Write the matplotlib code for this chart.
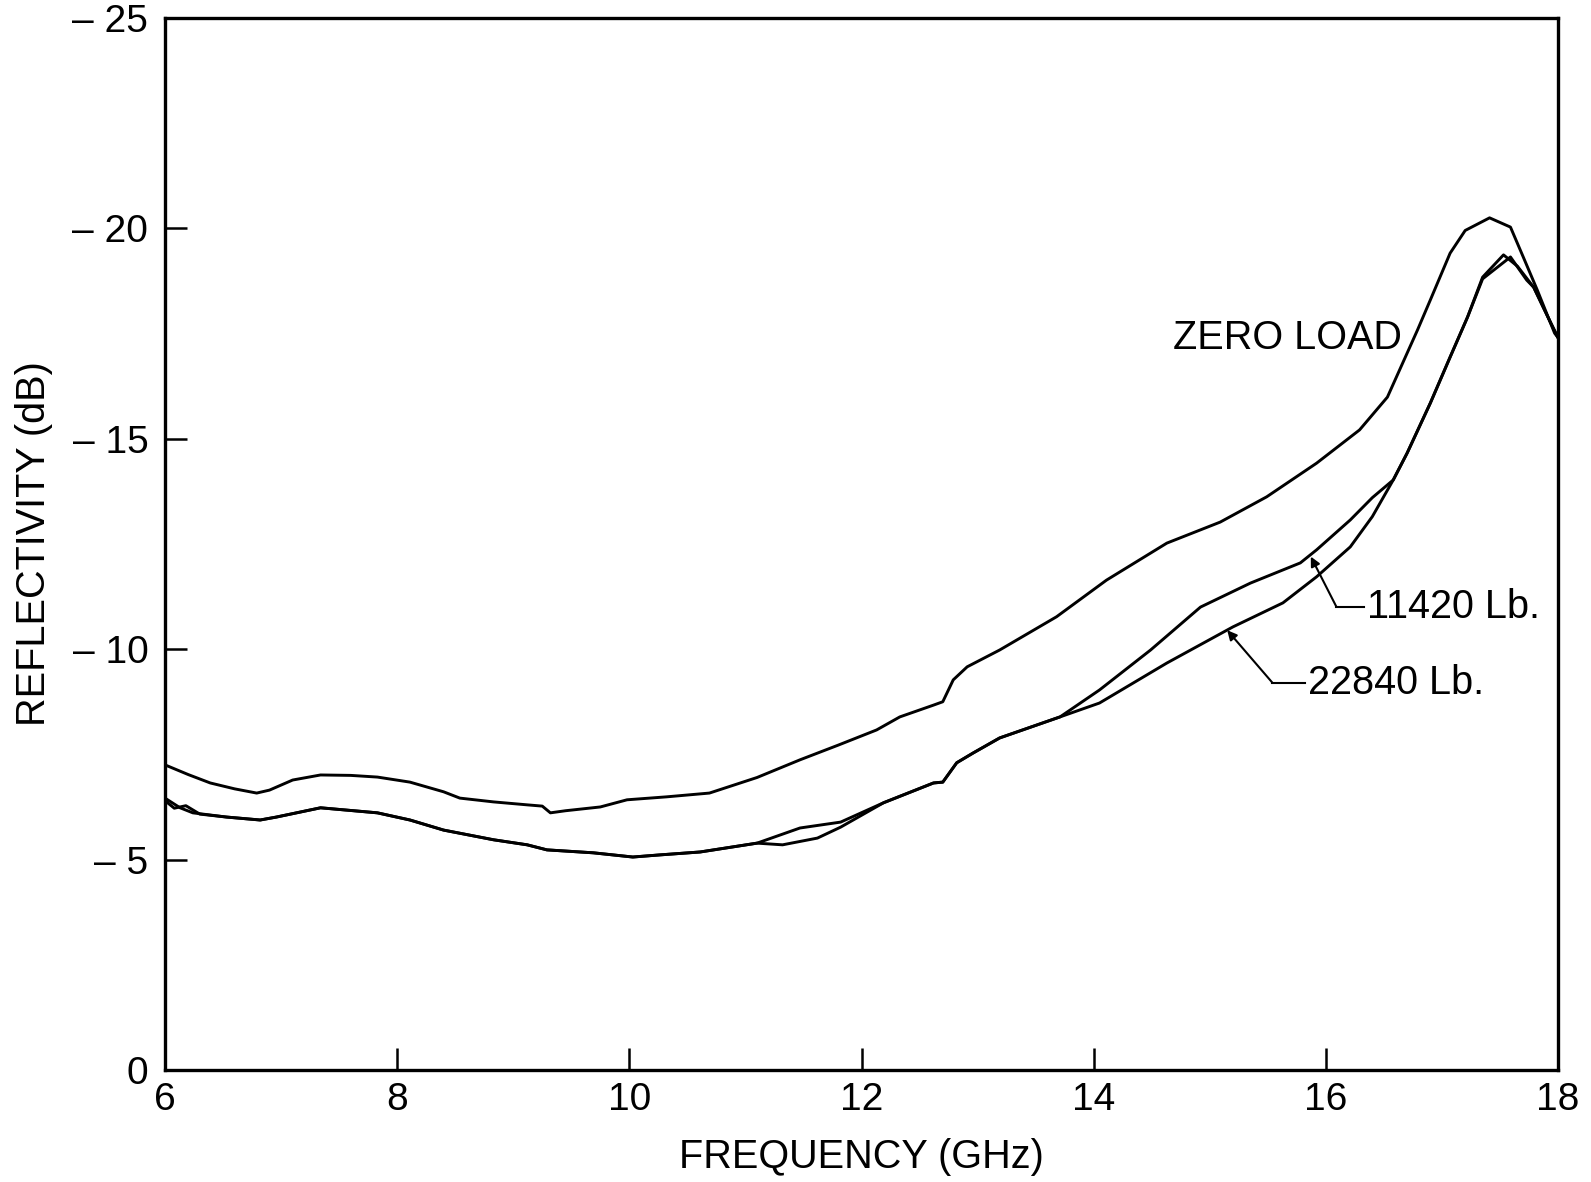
import matplotlib.pyplot as plt
import numpy as np

plt.rcParams['font.family'] = ['Liberation Sans', 'DejaVu Sans']

# reflectivity curves (GHz, dB)
freq_zero = [6.0, 6.2, 6.39, 6.6, 6.79, 6.9, 7.1, 7.34, 7.6, 7.83, 8.11, 8.4, 8.54,
             8.83, 9.12, 9.25, 9.32, 9.45, 9.75, 9.98, 10.32, 10.69, 11.1, 11.47,
             11.8, 12.13, 12.33, 12.62, 12.70, 12.79, 12.91, 13.19, 13.68, 14.11,
             14.63, 15.09, 15.49, 15.92, 16.29, 16.53, 16.79, 16.90, 17.07, 17.2,
             17.41, 17.59, 17.70, 17.82, 17.97, 18.0]
refl_zero = [-7.25, -7.02, -6.82, -6.68, -6.58, -6.65, -6.89, -7.01, -7.00, -6.96,
             -6.84, -6.61, -6.46, -6.37, -6.30, -6.27, -6.11, -6.16, -6.25, -6.42,
             -6.49, -6.58, -6.95, -7.37, -7.72, -8.08, -8.39, -8.67, -8.75, -9.27,
             -9.58, -9.98, -10.77, -11.64, -12.52, -13.02, -13.62, -14.42, -15.21,
             -15.99, -17.59, -18.30, -19.41, -19.95, -20.25, -20.03, -19.32, -18.54,
             -17.51, -17.40]

freq_11420 = [6.0, 6.13, 6.24, 6.53, 6.82, 6.96, 7.34, 7.83, 8.11, 8.4, 8.83, 9.12,
              9.29, 9.69, 10.03, 10.26, 10.61, 11.1, 11.47, 11.82, 12.19, 12.62,
              12.70, 12.82, 12.96, 13.19, 13.71, 14.05, 14.49, 14.92, 15.35, 15.78,
              15.92, 16.21, 16.40, 16.58, 16.70, 16.90, 17.07, 17.22, 17.35, 17.53,
              17.65, 17.79, 17.92, 18.0]
refl_11420 = [-6.46, -6.23, -6.11, -6.01, -5.94, -6.01, -6.23, -6.11, -5.94, -5.70,
              -5.47, -5.35, -5.23, -5.16, -5.06, -5.11, -5.18, -5.39, -5.75, -5.89,
              -6.35, -6.82, -6.84, -7.30, -7.53, -7.89, -8.39, -9.03, -9.98, -11.00,
              -11.57, -12.05, -12.36, -13.07, -13.60, -14.02, -14.66, -15.85, -16.94,
              -17.89, -18.84, -19.37, -19.10, -18.60, -17.85, -17.40]

freq_22840 = [6.0, 6.08, 6.18, 6.3, 6.53, 6.82, 6.96, 7.34, 7.83, 8.11, 8.4, 8.83,
              9.12, 9.29, 9.69, 10.03, 10.26, 10.61, 11.1, 11.32, 11.62, 11.82, 12.19,
              12.62, 12.70, 12.82, 12.96, 13.19, 13.71, 14.05, 14.63, 15.20, 15.63,
              15.92, 16.21, 16.40, 16.58, 16.70, 16.90, 17.07, 17.22, 17.35, 17.59,
              17.73, 17.79, 17.92, 18.0]
refl_22840 = [-6.40, -6.22, -6.28, -6.08, -6.01, -5.94, -6.01, -6.23, -6.11, -5.94,
              -5.70, -5.47, -5.35, -5.23, -5.16, -5.06, -5.11, -5.18, -5.39, -5.35,
              -5.51, -5.77, -6.35, -6.82, -6.84, -7.30, -7.53, -7.89, -8.39, -8.72,
              -9.67, -10.53, -11.10, -11.72, -12.43, -13.15, -14.02, -14.66, -15.85,
              -16.94, -17.89, -18.80, -19.32, -18.77, -18.60, -17.85, -17.40]

x_ticks = [6, 8, 10, 12, 14, 16, 18]
y_ticks = [0, -5, -10, -15, -20, -25]
y_tick_labels = ['0', '– 5', '– 10', '– 15', '– 20', '– 25']

fig = plt.figure(figsize=(15.91, 11.82), dpi=100)
ax = fig.add_axes([0.1037, 0.0948, 0.8756, 0.8900])

for f, r in [(freq_zero, refl_zero), (freq_11420, refl_11420), (freq_22840, refl_22840)]:
    ax.plot(f, r, color='black', lw=2.1, solid_joinstyle='round', solid_capstyle='round')

ax.set_xlim(6, 18)
ax.set_ylim(0, -25)
ax.set_xticks(x_ticks)
ax.set_yticks(y_ticks)
ax.set_yticklabels(y_tick_labels)
ax.tick_params(direction='in', length=16, width=1.8, labelsize=28, pad=12)
ax.tick_params(axis='x', pad=9)
for s in ax.spines.values():
    s.set_linewidth(2.4)

ax.set_xlabel('FREQUENCY (GHz)', fontsize=28.5, labelpad=14)
ax.set_ylabel('REFLECTIVITY (dB)', fontsize=28.5, labelpad=14)

ax.text(14.68, -17.4, 'ZERO LOAD', fontsize=28.5, ha='left', va='center')

# leader lines with small arrowheads pointing at curves
ax.annotate('', xy=(15.87, -12.2), xytext=(16.09, -11.01),
            arrowprops=dict(arrowstyle='-|>', lw=1.5, color='black', mutation_scale=14,
                            shrinkA=0, shrinkB=0))
ax.plot([16.09, 16.33], [-11.01, -11.01], color='black', lw=1.5)
ax.text(16.35, -11.0, '11420 Lb.', fontsize=28.5, ha='left', va='center')

ax.annotate('', xy=(15.15, -10.45), xytext=(15.54, -9.2),
            arrowprops=dict(arrowstyle='-|>', lw=1.5, color='black', mutation_scale=14,
                            shrinkA=0, shrinkB=0))
ax.plot([15.54, 15.82], [-9.2, -9.2], color='black', lw=1.5)
ax.text(15.85, -9.2, '22840 Lb.', fontsize=28.5, ha='left', va='center')

plt.savefig('out.png')
